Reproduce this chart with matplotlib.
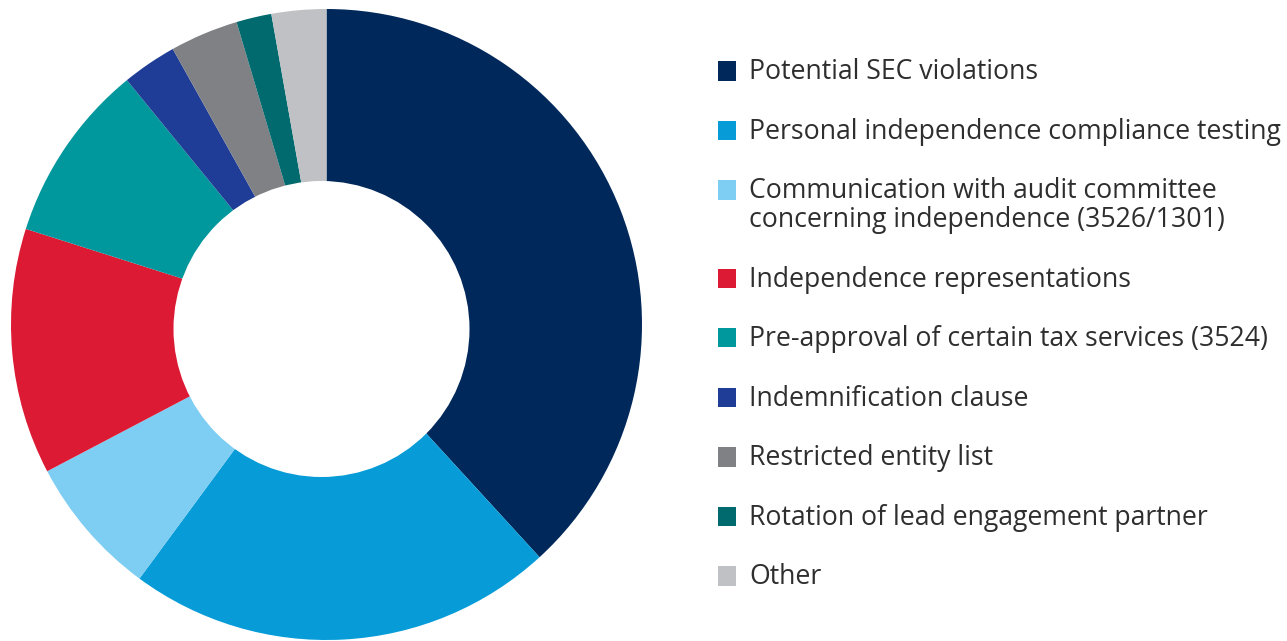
import matplotlib
matplotlib.use("Agg")
import matplotlib.pyplot as plt
from matplotlib.patches import Rectangle, Circle

plt.rcParams['font.family'] = ['Open Sans', 'DejaVu Sans']

labels = [
    "Potential SEC violations",
    "Personal independence compliance testing",
    "Communication with audit committee\nconcerning independence (3526/1301)",
    "Independence representations",
    "Pre-approval of certain tax services (3524)",
    "Indemnification clause",
    "Restricted entity list",
    "Rotation of lead engagement partner",
    "Other",
]
shares = [38.2, 21.9, 7.2, 12.6, 9.2, 2.8, 3.5, 1.8, 2.8]
colors = ["#00285A", "#079CD8", "#7ECDF2", "#DC1A34", "#00979D",
          "#1F3D96", "#7F8185", "#006A6E", "#C0C1C4"]

W, H = 1287, 641
fig = plt.figure(figsize=(W / 100, H / 100), dpi=100)

# donut: outer circle centre (326.5, 324.5) px, r 315.5
R = 315.5
ax = fig.add_axes([(326.5 - R) / W, (H - 324.5 - R) / H, 2 * R / W, 2 * R / H])
ax.pie(shares, colors=colors, startangle=90, counterclock=False,
       radius=1.0, wedgeprops=dict(linewidth=0))
# the hole sits a little off centre in the original
ax.add_patch(Circle((-5 / R, -4.5 / R), 148 / R, color="white", lw=0, zorder=5))
ax.set_xlim(-1, 1)
ax.set_ylim(-1, 1)
ax.set_aspect('equal')
ax.axis('off')

# legend drawn by hand
base = 79
for lab, col in zip(labels, colors):
    fig.add_artist(Rectangle((718 / W, 1 - (base + 1.5) / H), 18 / W, 19.5 / H,
                             transform=fig.transFigure, color=col, lw=0))
    lines = lab.split("\n")
    for k, ln in enumerate(lines):
        fig.text(749 / W, 1 - (base + 29 * k) / H, ln, fontsize=19.2,
                 color="#2E2E2E", va="baseline", ha="left")
    base += 59.5 + 29 * (len(lines) - 1)

fig.savefig("out.png", dpi=100)
